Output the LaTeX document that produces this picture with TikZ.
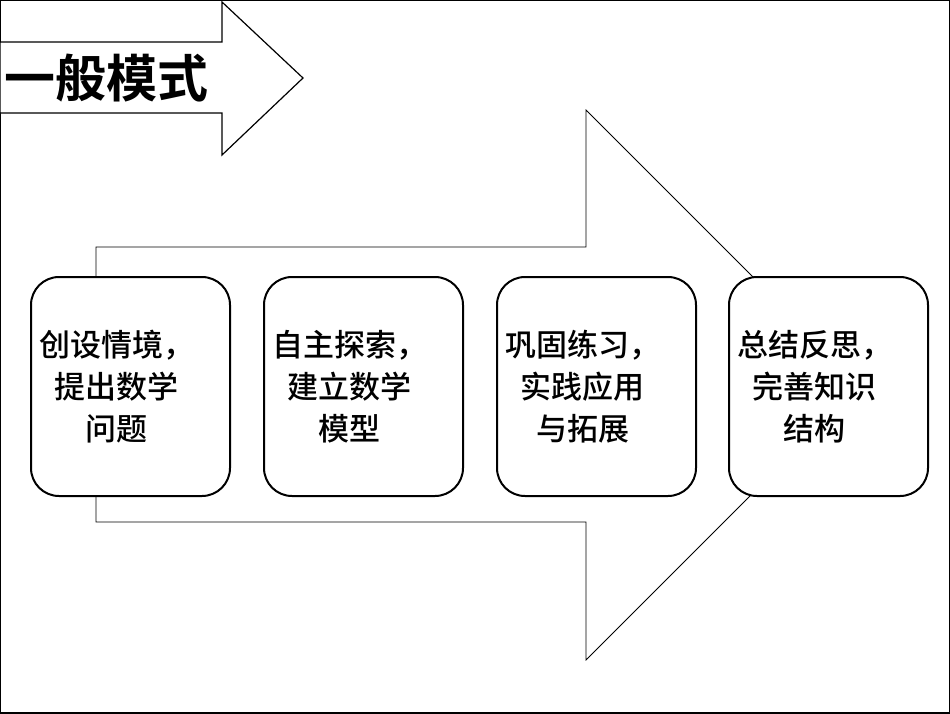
\documentclass[tikz,border=0pt]{standalone}
\usepackage{fontspec}
\newfontfamily\cjk{Noto Sans CJK SC Medium}
\newfontfamily\cjkb{Noto Sans CJK SC Bold}
\begin{document}
\begin{tikzpicture}[x=1pt,y=-1pt,
  stepbox/.style={draw=black,line width=2pt,rounded corners=28pt,fill=white,minimum width=199pt,minimum height=219pt,anchor=north west,inner sep=0pt},
  txt/.style={font=\cjk\fontsize{31}{42}\selectfont,align=center}]
\useasboundingbox (0,0) rectangle (950,713);
\draw[line width=1.5pt] (0,0) rectangle (950,713);
% big arrow
\draw[line width=0.8pt] (96,522) -- (96,247) -- (586,247) -- (586,110) -- (861,385) -- (586,660) -- (586,522) -- cycle;
% small arrow
\draw[line width=1.2pt,fill=white] (0,42) -- (222,42) -- (222,2) -- (303,78) -- (222,155) -- (222,113) -- (0,113) -- cycle;
\node[anchor=west,font=\cjkb\fontsize{51}{56}\selectfont,inner sep=0pt] (title) at (4,78) {一般模式};
\node[stepbox] (b1) at (30,276) {};
\node[stepbox] (b2) at (263,276) {};
\node[stepbox] (b3) at (496,276) {};
\node[stepbox] (b4) at (728,276) {};
\node[txt] at ([xshift=-14pt]b1) {创设情境，\\提出数学\\问题};
\node[txt] at ([xshift=-14pt]b2) {自主探索，\\建立数学\\模型};
\node[txt] at ([xshift=-14pt]b3) {巩固练习，\\实践应用\\与拓展};
\node[txt] at ([xshift=-14pt]b4) {总结反思，\\完善知识\\结构};
\end{tikzpicture}
\end{document}
